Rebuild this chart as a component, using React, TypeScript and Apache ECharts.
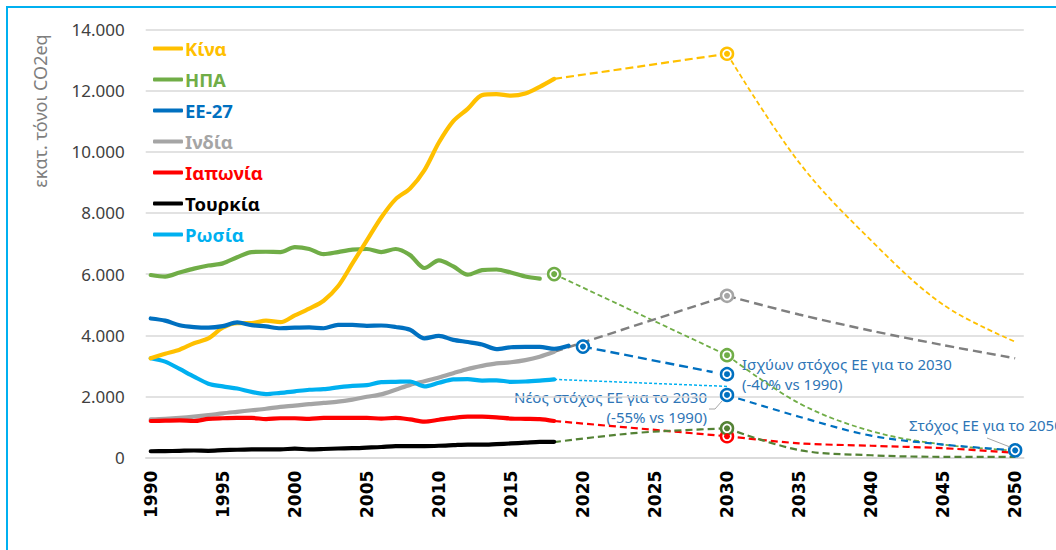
import React, { useEffect, useRef } from "react";
import * as echarts from "echarts";

// ---------- data ----------
const years = [
  1990, 1991, 1992, 1993, 1994, 1995, 1996, 1997, 1998, 1999, 2000, 2001, 2002, 2003, 2004,
  2005, 2006, 2007, 2008, 2009, 2010, 2011, 2012, 2013, 2014, 2015, 2016, 2017, 2018, 2019,
];

const china = [3250, 3400, 3530, 3740, 3900, 4250, 4400, 4400, 4480, 4430, 4650, 4870, 5130, 5600, 6350,
  7100, 7850, 8450, 8800, 9400, 10300, 11000, 11400, 11850, 11880, 11830, 11900, 12120, 12380];
const usa = [5970, 5920, 6050, 6180, 6280, 6350, 6550, 6720, 6730, 6720, 6880, 6820, 6650, 6720, 6800,
  6820, 6720, 6820, 6620, 6200, 6450, 6250, 5980, 6130, 6150, 6050, 5920, 5850];
const eu27 = [4550, 4480, 4330, 4270, 4250, 4300, 4420, 4330, 4290, 4230, 4250, 4260, 4230, 4340, 4340,
  4310, 4320, 4270, 4180, 3900, 3980, 3850, 3780, 3700, 3550, 3610, 3620, 3620, 3560, 3660];
const india = [1250, 1270, 1300, 1340, 1390, 1450, 1500, 1550, 1600, 1660, 1700, 1750, 1790, 1830, 1900,
  1990, 2070, 2220, 2380, 2500, 2620, 2760, 2900, 3000, 3080, 3120, 3190, 3300, 3460];
const japan = [1200, 1210, 1220, 1200, 1270, 1290, 1300, 1300, 1260, 1290, 1290, 1270, 1300, 1300, 1300,
  1300, 1280, 1300, 1250, 1180, 1240, 1300, 1340, 1340, 1320, 1280, 1270, 1260, 1200];
const turkey = [210, 215, 225, 235, 225, 245, 260, 270, 275, 275, 295, 275, 285, 300, 310,
  330, 350, 380, 380, 380, 390, 410, 430, 425, 445, 465, 490, 520, 520];
const russia = [3250, 3140, 2900, 2650, 2420, 2330, 2260, 2150, 2080, 2120, 2170, 2220, 2240, 2300, 2350,
  2370, 2470, 2480, 2490, 2330, 2450, 2560, 2570, 2520, 2530, 2480, 2490, 2520, 2560];

// projections (year, value)
const chinaProjA = [[2018, 12380], [2030, 13200]];
const chinaProjB = [[2030, 13200], [2035, 9650], [2040, 7100], [2045, 5000], [2050, 3790]];
const usaProjA = [[2018, 6000], [2030, 3350]];
const usaProjB = [[2030, 3350], [2035, 1780], [2040, 870], [2045, 430], [2050, 230]];
const euProjA = [[2020, 3630], [2029, 2800]];
const euProjB = [[2030, 2050], [2035, 1340], [2040, 720], [2045, 430], [2050, 240]];
const indiaProjA = [[2018, 3460], [2030, 5290]];
const indiaProjB = [[2030, 5290], [2035, 4680], [2040, 4150], [2045, 3680], [2050, 3250]];
const japanProjA = [[2018, 1200], [2030, 700]];
const japanProjB = [[2030, 700], [2035, 470], [2040, 390], [2045, 310], [2050, 160]];
const turkeyProjA = [[2018, 510], [2021, 680], [2024, 820], [2027, 900], [2030, 960]];
const turkeyProjB = [[2030, 960], [2035, 250], [2040, 80], [2045, 30], [2050, 30]];
const russiaProjA = [[2018, 2560], [2030, 2330]];

// markers
const chinaMarkers = [[2030, 13200]];
const usaMarkers = [[2018, 6000], [2030, 3350]];
const euMarkers = [[2020, 3630], [2030, 2730], [2030, 2050], [2050, 240]];
const indiaMarkers = [[2030, 5290]];
const japanMarkers = [[2030, 700]];
const turkeyMarkers = [[2030, 960]];

const xTickLabels = [1990, 1995, 2000, 2005, 2010, 2015, 2020, 2025, 2030, 2035, 2040, 2045, 2050];

const names = ["Κίνα", "ΗΠΑ", "ΕΕ-27", "Ινδία", "Ιαπωνία", "Τουρκία", "Ρωσία"];
const colors = ["#FFC000", "#70AD47", "#0070C0", "#A5A5A5", "#FF0000", "#000000", "#00B0F0"];
const legendTextColors = ["#FFC000", "#70AD47", "#0070C0", "#A5A5A5", "#FF0000", "#000000", "#00B0F0"];

const ANNOT = "#2E75B6";
const FONT = "'Noto Sans', 'DejaVu Sans', sans-serif";

function pair(vals: number[]) {
  return vals.map((v, i) => [years[i], v]);
}

function hist(name: string, vals: number[], color: string) {
  return {
    name,
    type: "line",
    data: pair(vals),
    smooth: 0.3,
    showSymbol: false,
    symbol: "none",
    itemStyle: { color },
    lineStyle: { color, width: 4.2, cap: "round", join: "round" },
    z: 3,
  };
}

function proj(name: string, data: number[][], color: string, width: number, dash: number[], smooth: number | boolean) {
  return {
    name,
    type: "line",
    data,
    smooth,
    showSymbol: false,
    symbol: "none",
    itemStyle: { color },
    lineStyle: { color, width, type: dash },
    z: 2,
  };
}

function markers(name: string, data: number[][], color: string) {
  return [
    {
      name: name + "-m1",
      type: "scatter",
      data,
      symbol: "circle",
      symbolSize: 12,
      itemStyle: { color: "#FFFFFF", borderColor: color, borderWidth: 2.5, opacity: 1 },
      z: 5,
      silent: true,
    },
    {
      name: name + "-m2",
      type: "scatter",
      data,
      symbol: "circle",
      symbolSize: 6,
      itemStyle: { color, opacity: 1 },
      z: 6,
      silent: true,
    },
  ];
}

function fmt(v: number) {
  return String(v).replace(/\B(?=(\d{3})+(?!\d))/g, ".");
}

export default function App() {
  const ref = useRef<HTMLDivElement>(null);

  useEffect(() => {
    if (!ref.current) return;
    const chart = echarts.init(ref.current, undefined, { renderer: "svg" });

    const option: any = {
      animation: false,
      backgroundColor: "#FFFFFF",
      grid: { left: 145.7, right: 32.2, top: 29.3, bottom: 92.3, containLabel: false },
      xAxis: {
        type: "value",
        min: 1989.65,
        max: 2050.6,
        axisLine: { show: true, lineStyle: { color: "#D9D9D9", width: 1.5 } },
        axisTick: { show: false },
        splitLine: { show: false },
        axisLabel: {
          customValues: xTickLabels,
          rotate: 90,
          margin: 13,
          color: "#000000",
          fontWeight: "bold",
          fontSize: 17,
          fontFamily: "'DejaVu Sans', sans-serif",
          formatter: (v: number) => String(v),
        },
      },
      yAxis: {
        type: "value",
        min: 0,
        max: 14000,
        interval: 2000,
        axisLine: { show: false },
        axisTick: { show: false },
        splitLine: { show: true, lineStyle: { color: "#D9D9D9", width: 1.5 } },
        axisLabel: {
          margin: 21,
          color: "#404040",
          fontSize: 17,
          fontFamily: FONT,
          formatter: (v: number) => fmt(v),
        },
      },
      legend: {
        orient: "vertical",
        left: 148,
        top: 33,
        itemWidth: 30,
        itemHeight: 4,
        itemGap: 10,
        icon: "roundRect",
        selectedMode: false,
        textStyle: { fontSize: 18.5, fontWeight: "bold", fontFamily: FONT, lineHeight: 21, padding: [0, 0, 0, -3] },
        data: names.map((n, i) => ({ name: n, textStyle: { color: legendTextColors[i] } })),
      },
      graphic: [
        {
          type: "rect",
          shape: { x: 7, y: 7, width: 1200, height: 700 },
          style: { fill: "none", stroke: "#00B0F0", lineWidth: 2 },
          silent: true,
          z: 100,
        },
        {
          type: "text",
          x: 40,
          y: 111,
          rotation: Math.PI / 2,
          style: {
            text: "εκατ. τόνοι CO2eq",
            fill: "#7F7F7F",
            fontSize: 18,
            fontFamily: FONT,
            align: "center",
            verticalAlign: "middle",
          },
        },
        {
          type: "text",
          x: 742,
          y: 364,
          style: { text: "Ισχύων στόχος ΕΕ για το 2030", fill: ANNOT, fontSize: 15, fontFamily: FONT, align: "left", verticalAlign: "middle" },
        },
        {
          type: "text",
          x: 742,
          y: 384,
          style: { text: "(-40% vs 1990)", fill: ANNOT, fontSize: 15, fontFamily: FONT, align: "left", verticalAlign: "middle" },
        },
        {
          type: "text",
          x: 707,
          y: 397,
          style: { text: "Νέος στόχος ΕΕ για το 2030", fill: ANNOT, fontSize: 15, fontFamily: FONT, align: "right", verticalAlign: "middle" },
        },
        {
          type: "text",
          x: 707,
          y: 417,
          style: { text: "(-55% vs 1990)", fill: ANNOT, fontSize: 15, fontFamily: FONT, align: "right", verticalAlign: "middle" },
        },
        {
          type: "text",
          x: 909,
          y: 425,
          style: { text: "Στόχος ΕΕ για το 2050", fill: ANNOT, fontSize: 15, fontFamily: FONT, align: "left", verticalAlign: "middle" },
        },
        {
          type: "polyline",
          shape: { points: [[709, 409], [715, 409], [722, 401]] },
          style: { stroke: "#A6A6A6", lineWidth: 1, fill: "none" },
          z: 10,
        },
        {
          type: "line",
          shape: { x1: 987, y1: 438, x2: 1010, y2: 447 },
          style: { stroke: "#A6A6A6", lineWidth: 1 },
          z: 10,
        },
      ],
      series: [
        proj("Κίνα-pA", chinaProjA, colors[0], 2.2, [8, 4], false),
        proj("Κίνα-pB", chinaProjB, colors[0], 1.8, [5, 3], 0.35),
        proj("ΗΠΑ-pA", usaProjA, colors[1], 1.8, [5, 3], false),
        proj("ΗΠΑ-pB", usaProjB, colors[1], 1.8, [5, 3], 0.35),
        proj("ΕΕ-pA", euProjA, colors[2], 2.4, [9, 5], false),
        proj("ΕΕ-pB", euProjB, colors[2], 2.2, [7, 5], 0.35),
        proj("Ινδία-pA", indiaProjA, "#7F7F7F", 2.4, [9, 5], false),
        proj("Ινδία-pB", indiaProjB, "#7F7F7F", 2.4, [9, 5], 0.3),
        proj("Ιαπωνία-pA", japanProjA, colors[4], 2.2, [7, 4], false),
        proj("Ιαπωνία-pB", japanProjB, colors[4], 2.2, [7, 4], 0.3),
        proj("Τουρκία-pA", turkeyProjA, "#548235", 2.2, [7, 4], 0.35),
        proj("Τουρκία-pB", turkeyProjB, "#548235", 2.2, [7, 4], 0.35),
        proj("Ρωσία-pA", russiaProjA, colors[6], 1.5, [3, 2], false),
        hist(names[3], india, colors[3]),
        hist(names[5], turkey, colors[5]),
        hist(names[4], japan, colors[4]),
        hist(names[6], russia, colors[6]),
        hist(names[1], usa, colors[1]),
        hist(names[0], china, colors[0]),
        hist(names[2], eu27, colors[2]),
        ...markers("china", chinaMarkers, colors[0]),
        ...markers("usa", usaMarkers, colors[1]),
        ...markers("eu", euMarkers, colors[2]),
        ...markers("india", indiaMarkers, "#A5A5A5"),
        ...markers("japan", japanMarkers, colors[4]),
        ...markers("turkey", turkeyMarkers, "#548235"),
      ],
    };

    chart.setOption(option);
    return () => chart.dispose();
  }, []);

  return (
    <div
      ref={ref}
      style={{ position: "absolute", left: 0, top: 0, width: 1056, height: 550, background: "#fff" }}
    />
  );
}
